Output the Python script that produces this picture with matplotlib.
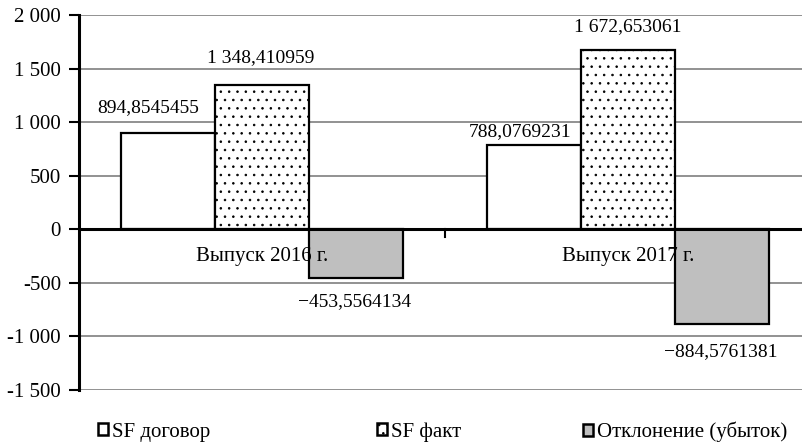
import numpy as np
import matplotlib
matplotlib.use("Agg")
import matplotlib.pyplot as plt
from matplotlib.patches import Patch
from matplotlib.ticker import FuncFormatter

# данные по выпускам
categories = ["Выпуск 2016 г.", "Выпуск 2017 г."]
series_names = ["SF договор", "SF факт", "Отклонение (убыток)"]
sf_dogovor = [894.8545455, 788.0769231]
sf_fakt = [1348.410959, 1672.653061]
otklonenie = [-453.5564134, -884.5761381]

# сдвиг подписей значений (пиксели) для каждого ряда/выпуска
label_offsets = [
    [(-20, 26), (-14, 13)],
    [(-1, 27), (0, 23)],
    [(-1, -24), (-1, -28)],
]

plt.rcParams["font.family"] = ["Liberation Serif", "DejaVu Serif"]
plt.rcParams["hatch.color"] = "#6e6e6e"
plt.rcParams["hatch.linewidth"] = 0.6

fig = plt.figure(figsize=(8.03, 4.44), dpi=100)
ax = fig.add_axes([79 / 803, 1 - 390 / 444, 732 / 803, 375 / 444])

x = np.arange(len(categories))
w = 0.257
styles = [
    dict(facecolor="white", hatch=None),
    dict(facecolor="white", hatch=".."),
    dict(facecolor="#bfbfbf", hatch=None),
]
series = [sf_dogovor, sf_fakt, otklonenie]


def fmt_value(v):
    s = f"{abs(v):,.10g}".replace(",", " ").replace(".", ",")
    return ("\u2212" + s) if v < 0 else s


for k, (vals, st) in enumerate(zip(series, styles)):
    bars = ax.bar(x + (k - 1) * w, vals, w, edgecolor="black", linewidth=1.6,
                  zorder=3, **st)
    for j, (b, v) in enumerate(zip(bars, vals)):
        ax.annotate(fmt_value(v), (b.get_x() + b.get_width() / 2, v),
                    xytext=label_offsets[k][j], textcoords="offset pixels",
                    ha="center", va="center", fontsize=14, zorder=5)

# подписи категорий у нулевой линии
for xi, cat in zip(x, categories):
    ax.annotate(cat, (xi, 0), xytext=(0, -27), textcoords="offset pixels",
                ha="center", va="center", fontsize=15, zorder=6)

ax.set_xlim(-0.5, 1.5)
ax.set_ylim(-1500, 2000)
ax.set_yticks(np.arange(-1500, 2001, 500))
ax.yaxis.set_major_formatter(FuncFormatter(
    lambda v, p: f"{int(v):,}".replace(",", " ")))
ax.tick_params(axis="y", labelsize=15, length=7, width=1.5, direction="out",
               pad=6)
ax.set_xticks([])

for yv in np.arange(-1500, 2001, 500):
    if yv != 0:
        ax.axhline(yv, color="#7f7f7f", linewidth=1.2, zorder=1)
ax.axhline(0, color="black", linewidth=2.2, zorder=4)
# разделитель категорий на оси
ax.plot([0.5, 0.5], [0, -70], color="black", linewidth=1.5, zorder=4)

for s in ["top", "right", "bottom"]:
    ax.spines[s].set_visible(False)
ax.spines["left"].set_linewidth(2.2)
ax.spines["left"].set_zorder(4)

# легенда: три элемента в ряд
legend_x = [98 / 803, 377 / 803, 583 / 803]
for name, st, lx in zip(series_names, styles, legend_x):
    h = Patch(edgecolor="black", linewidth=1.8, **st)
    fig.legend([h], [name], loc="center left", bbox_to_anchor=(lx, 1 - 432 / 444),
               frameon=False, fontsize=15, handlelength=0.5, handleheight=0.5,
               handletextpad=0.15, borderaxespad=0, borderpad=0)

fig.savefig("out.png", dpi=100)
